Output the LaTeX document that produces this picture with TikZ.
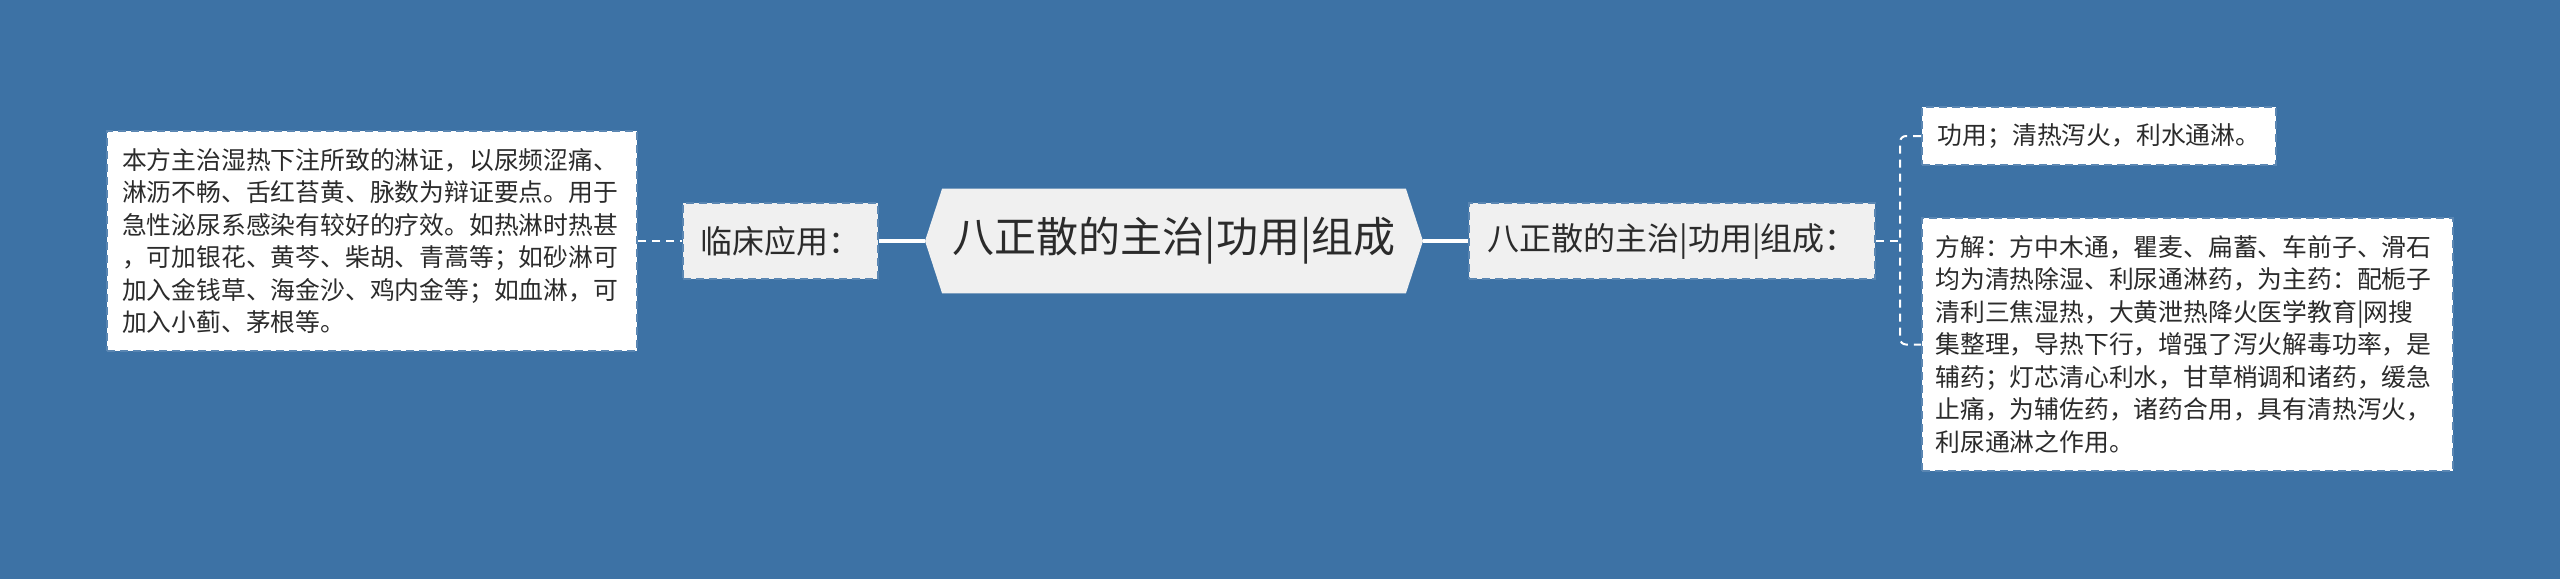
\documentclass[tikz,border=0pt]{standalone}
\usepackage{fontspec}
\setmainfont{Noto Sans CJK SC}
\usetikzlibrary{backgrounds}
\definecolor{bg}{HTML}{3D72A5}
\definecolor{lightbox}{HTML}{F0F0F0}
\definecolor{txt}{HTML}{2B2B2B}
\definecolor{edge}{HTML}{5A86B2}
\begin{document}
\begin{tikzpicture}[x=0.5pt,y=-0.5pt,
  box/.style={draw=edge, line width=1pt, dash pattern=on 4pt off 2.5pt, inner sep=0pt, text=txt, align=left},
  whitebox/.style={box, fill=white},
  graybox/.style={box, fill=lightbox},
  link/.style={draw=white, line width=1.6pt},
  dlink/.style={draw=white, line width=1.3pt, dash pattern=on 4pt off 3pt},
  blink/.style={draw=white, line width=1pt, dash pattern=on 4pt off 3pt},
  body/.style={font=\fontsize{12.4pt}{16.25pt}\selectfont},
  midfont/.style={font=\fontsize{16pt}{19pt}\selectfont},
  bigfont/.style={font=\fontsize{21pt}{25pt}\selectfont},
]
\useasboundingbox (0,0) rectangle (2560,579);
\begin{scope}[on background layer]
  \fill[bg] (0,0) rectangle (2560,579);
\end{scope}

\node[whitebox, body, text width=250pt, minimum width=265pt, minimum height=110pt] (lb) at (372,241)
 {本方主治湿热下注所致的淋证，以尿频涩痛、\\淋沥不畅、舌红苔黄、脉数为辩证要点。用于\\急性泌尿系感染有较好的疗效。如热淋时热甚\\，可加银花、黄芩、柴胡、青蒿等；如砂淋可\\加入金钱草、海金沙、鸡内金等；如血淋，可\\加入小蓟、茅根等。};

\node[graybox, midfont, minimum width=97.5pt, minimum height=38pt] (lc) at (780.5,241) {临床应用：};

\node[bigfont, text=txt, inner sep=0pt, minimum width=231.5pt, minimum height=52pt] (cen) at (1174,241) {八正散的主治|功用|组成};
\coordinate (cenL) at (925,241);
\coordinate (cenR) at (1423,241);

\node[graybox, midfont, minimum width=203pt, minimum height=38pt] (rm) at (1672,241) {八正散的主治|功用|组成：};

\node[whitebox, body, minimum width=177pt, minimum height=29pt] (tr) at (2099,136) {功用；清热泻火，利水通淋。};

\node[whitebox, body, text width=252pt, minimum width=265.5pt, minimum height=126.5pt] (br) at (2187.5,344.5)
 {方解：方中木通，瞿麦、扁蓄、车前子、滑石\\均为清热除湿、利尿通淋药，为主药：配栀子\\清利三焦湿热，大黄泄热降火医学教育|网搜\\集整理，导热下行，增强了泻火解毒功率，是\\辅药；灯芯清心利水，甘草梢调和诸药，缓急\\止痛，为辅佐药，诸药合用，具有清热泻火，\\利尿通淋之作用。};

\begin{scope}[on background layer]
  \fill[lightbox] (cen.north west) -- (cen.north east) -- (cenR) -- (cen.south east) -- (cen.south west) -- (cenL) -- cycle;
\end{scope}

\draw[dlink] (lb.east) -- (lc.west);
\draw[link] (lc.east) -- (cenL);
\draw[link] (cenR) -- (rm.west);
\coordinate (bx) at (1900,241);
\draw[blink] (rm.east) -- (bx);
\draw[blink, rounded corners=3pt] (tr.west) -- (tr.west -| bx) -- (br.west -| bx) -- (br.west);
\end{tikzpicture}
\end{document}
